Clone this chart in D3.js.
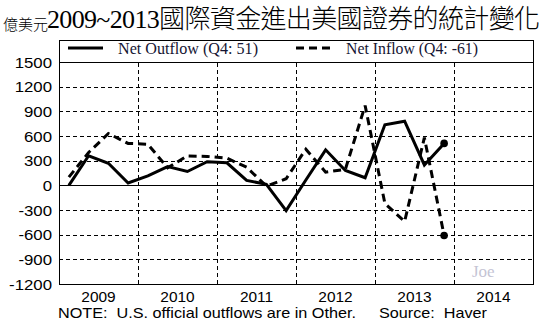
<!DOCTYPE html>
<html>
<head>
<meta charset="utf-8">
<script src="https://cdn.jsdelivr.net/npm/d3@7"></script>
<style>
  html, body { margin: 0; padding: 0; background: #fff; }
  svg { display: block; }
  text.pre { white-space: pre; }
</style>
</head>
<body>
<svg id="chart" width="544" height="325"></svg>
<script>
// Quarterly net flows, 億美元 (100 million USD)
const quarters = [
  "2009Q1","2009Q2","2009Q3","2009Q4",
  "2010Q1","2010Q2","2010Q3","2010Q4",
  "2011Q1","2011Q2","2011Q3","2011Q4",
  "2012Q1","2012Q2","2012Q3","2012Q4",
  "2013Q1","2013Q2","2013Q3","2013Q4"
];
const netOutflow = [0, 360, 268, 28, 115, 228, 168, 288, 274, 60, 12, -308, 65, 432, 180, 92, 737, 780, 248, 510];
const netInflow  = [100, 400, 630, 510, 500, 212, 358, 352, 330, 220, -10, 80, 440, 160, 195, 970, -220, -440, 580, -610];
const yearLabels = ["2009", "2010", "2011", "2012", "2013", "2014"];
const yTicks = [1500, 1200, 900, 600, 300, 0, -300, -600, -900, -1200];
const legendLabels = ["Net Outflow (Q4: 51)", "Net Inflow (Q4: -61)"];

const svg = d3.select("#chart");
const plotL = 59, plotR = 533, plotT = 62, plotB = 284, boxT = 40;
const SANS = "'Liberation Sans', Arial, sans-serif";
const SERIF = "'Liberation Serif', 'Times New Roman', serif";

const x = d3.scaleLinear().domain([2009, 2015]).range([plotL, plotR]);
const y = d3.scaleLinear().domain([-1200, 1500]).range([plotB, plotT]);
const qx = q => { const yr = +q.slice(0, 4), n = +q.slice(5); return x(yr + (n - 0.5) / 4); };

// Text helper: glyphs slightly widened horizontally
function label(parent, px, py, str, opts) {
  const o = Object.assign({ size: 15, family: SANS, sx: 1, anchor: "start", fill: "#000" }, opts || {});
  return parent.append("text")
    .attr("transform", `translate(${px},${py}) scale(${o.sx},1)`)
    .attr("text-anchor", o.anchor)
    .style("font-family", o.family).style("font-size", o.size + "px")
    .attr("fill", o.fill)
    .text(str);
}

// Title
svg.append("text").attr("x", 3).attr("y", 30)
  .style("font-family", "'Noto Sans CJK TC', sans-serif").style("font-size", "15px")
  .style("font-weight", 300).attr("fill", "#000")
  .text("億美元");
svg.append("text").attr("x", 47).attr("y", 28)
  .attr("textLength", 493).attr("lengthAdjust", "spacing")
  .style("font-family", "'Liberation Serif', 'Noto Sans CJK TC', serif").style("font-size", "26px")
  .style("font-weight", 300).attr("fill", "#000")
  .text("2009~2013國際資金進出美國證券的統計變化");

// Horizontal grid
const gridY = d3.axisLeft(y).tickValues(yTicks.filter(v => v !== 1500 && v !== -1200 && v !== 0))
  .tickSize(-(plotR - plotL)).tickFormat("");
const gy = svg.append("g").attr("transform", `translate(${plotL},0)`).call(gridY);
gy.select(".domain").remove();
gy.selectAll("line").attr("stroke", "#000").attr("stroke-width", 1).attr("stroke-dasharray", "4,3")
  .attr("shape-rendering", "crispEdges");

// Vertical grid at year boundaries
const gridX = d3.axisBottom(x).tickValues([2010, 2011, 2012, 2013, 2014])
  .tickSize(-(plotB - plotT)).tickFormat("");
const gx = svg.append("g").attr("transform", `translate(0,${plotB})`).call(gridX);
gx.select(".domain").remove();
gx.selectAll("line").attr("stroke", "#000").attr("stroke-width", 1).attr("stroke-dasharray", "4,3")
  .attr("shape-rendering", "crispEdges");

// Zero line
svg.append("line").attr("x1", plotL).attr("x2", plotR).attr("y1", y(0)).attr("y2", y(0))
  .attr("stroke", "#000").attr("stroke-width", 1).attr("shape-rendering", "crispEdges");

// Frame with legend band on top
svg.append("rect").attr("x", plotL).attr("y", boxT).attr("width", plotR - plotL).attr("height", plotB - boxT)
  .attr("fill", "none").attr("stroke", "#000").attr("stroke-width", 1).attr("shape-rendering", "crispEdges");
svg.append("line").attr("x1", plotL).attr("x2", plotR).attr("y1", y(1500)).attr("y2", y(1500))
  .attr("stroke", "#000").attr("stroke-width", 1).attr("shape-rendering", "crispEdges");

// Small inner ticks on the bottom edge
const tickB = d3.axisTop(x).tickValues([2010, 2011, 2012, 2013, 2014]).tickSize(4).tickFormat("");
const tb = svg.append("g").attr("transform", `translate(0,${plotB})`).call(tickB);
tb.select(".domain").remove();
tb.selectAll("line").attr("stroke", "#000").attr("shape-rendering", "crispEdges");

// Y labels
const yl = svg.append("g");
yTicks.forEach(v => label(yl, 52, y(v) + 5.5, v, { anchor: "end", sx: 1.12 }));

// X labels centred in each year
const xl = svg.append("g");
yearLabels.forEach(t => label(xl, x(+t + 0.5), 302, t, { anchor: "middle", sx: 1.03 }));

// Series
const line = d3.line().x(d => qx(d.q)).y(d => y(d.v));
const outData = quarters.map((q, i) => ({ q, v: netOutflow[i] }));
const inData = quarters.map((q, i) => ({ q, v: netInflow[i] }));

svg.append("path").datum(inData).attr("d", line).attr("fill", "none")
  .attr("stroke", "#000").attr("stroke-width", 3).attr("stroke-dasharray", "8,5");
svg.append("path").datum(outData).attr("d", line).attr("fill", "none")
  .attr("stroke", "#000").attr("stroke-width", 3).attr("stroke-linejoin", "miter");

// End markers
[outData[outData.length - 1], inData[inData.length - 1]].forEach(d => {
  svg.append("circle").attr("cx", qx(d.q)).attr("cy", y(d.v)).attr("r", 3.8).attr("fill", "#000");
});

// Legend
svg.append("line").attr("x1", 68).attr("x2", 103).attr("y1", 48).attr("y2", 48)
  .attr("stroke", "#000").attr("stroke-width", 3);
svg.append("line").attr("x1", 296).attr("x2", 330).attr("y1", 48).attr("y2", 48)
  .attr("stroke", "#000").attr("stroke-width", 3).attr("stroke-dasharray", "8,5");
svg.append("text").attr("x", 118).attr("y", 54).text(legendLabels[0])
  .attr("textLength", 140).attr("lengthAdjust", "spacingAndGlyphs")
  .style("font-family", SERIF).style("font-size", "17px").attr("fill", "#141432");
svg.append("text").attr("x", 346).attr("y", 54).text(legendLabels[1])
  .attr("textLength", 132).attr("lengthAdjust", "spacingAndGlyphs")
  .style("font-family", SERIF).style("font-size", "17px").attr("fill", "#141432");

// Watermark
svg.append("text").attr("x", 472).attr("y", 277).text("Joe")
  .style("font-family", SERIF).style("font-size", "17px").attr("fill", "#c4c4d4");

// Footer
svg.append("text").attr("class", "pre").attr("x", 58).attr("y", 318)
  .attr("textLength", 298).attr("lengthAdjust", "spacingAndGlyphs")
  .style("font-family", SANS).style("font-size", "15px").attr("fill", "#000")
  .text("NOTE:  U.S. official outflows are in Other.");
svg.append("text").attr("class", "pre").attr("x", 379).attr("y", 318)
  .attr("textLength", 108).attr("lengthAdjust", "spacingAndGlyphs")
  .style("font-family", SANS).style("font-size", "15px").attr("fill", "#000")
  .text("Source:  Haver");
</script>
</body>
</html>
